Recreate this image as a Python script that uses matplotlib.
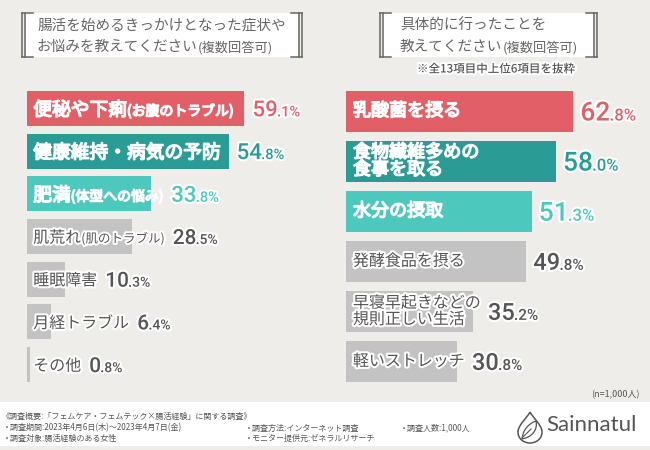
import matplotlib
matplotlib.use("Agg")
import matplotlib.pyplot as plt
import matplotlib.patheffects as pe
from matplotlib.patches import Rectangle, PathPatch
from matplotlib.path import Path

plt.rcParams['font.family'] = ['Noto Sans CJK JP', 'DejaVu Sans']

# ── data ─────────────────────────────────────────────
left_main = ["便秘や下痢", "健康維持・病気の予防", "肥満", "肌荒れ", "睡眠障害", "月経トラブル", "その他"]
left_sub = ["(お腹のトラブル)", "", "(体型への悩み)", "(肌のトラブル)", "", "", ""]
left_values = [59.1, 54.8, 33.8, 28.5, 10.3, 6.4, 0.8]

right_labels = ["乳酸菌を摂る", "食物繊維多めの\n食事を取る", "水分の摂取", "発酵食品を摂る",
                "早寝早起きなどの\n規則正しい生活", "軽いストレッチ"]
right_values = [62.8, 58.0, 51.3, 49.8, 35.2, 30.8]

left_title = ["腸活を始めるきっかけとなった症状や", "お悩みを教えてください"]
right_title = ["具体的に行ったことを", "教えてください"]
title_sub = "(複数回答可)"
right_note = "※全13項目中上位6項目を抜粋"
n_note = "(n=1,000人)"
footer_lines = [
    [(2, "《調査概要:「フェムケア・フェムテック×腸活経験」に関する調査》")],
    [(3, "・調査期間:2023年4月6日(木)～2023年4月7日(金)"), (245, "・調査方法:インターネット調査"), (400, "・調査人数:1,000人")],
    [(3, "・調査対象:腸活経験のある女性"), (245, "・モニター提供元:ゼネラルリサーチ")],
]

# ── style ────────────────────────────────────────────
BG = "#efedea"
RED, TEAL, LTEAL, GRAY = "#e35f68", "#2a9c95", "#4cc8bd", "#c3c3c3"
TXT = "#555555"
left_colors = [RED, TEAL, LTEAL, GRAY, GRAY, GRAY, GRAY]
right_colors = [RED, TEAL, LTEAL, GRAY, GRAY, GRAY]
NUM_FONT = ['Roboto', 'DejaVu Sans']

fig = plt.figure(figsize=(6.5, 4.5), dpi=100, facecolor=BG)
W, H = 650, 450

# decoration layer in pixel units
deco = fig.add_axes([0, 0, 1, 1], zorder=0)
deco.set_xlim(0, W)
deco.set_ylim(H, 0)
deco.axis("off")


def bracket_box(x0, x1, y0, y1):
    deco.add_patch(Rectangle((x0 + 3, y0), x1 - x0 - 6, y1 - y0, facecolor="white", edgecolor="none"))
    for x in (x0, x0 + 3, x1 - 3, x1):
        deco.plot([x, x], [y0, y1], color="#666666", lw=1.1)
    for y in (y0, y1):
        deco.plot([x0, x0 + 11], [y, y], color="#666666", lw=1.1)
        deco.plot([x1 - 11, x1], [y, y], color="#666666", lw=1.1)


bracket_box(22, 302, 13, 57)
bracket_box(380, 597, 13, 57)

renderer = fig.canvas.get_renderer()


def text_width(t):
    return t.get_window_extent(renderer).width


def title(x, lines):
    deco.text(x, 26, lines[0], fontsize=10.5, color="#666666", va="center", ha="left")
    t = deco.text(x, 47, lines[1], fontsize=10.5, color="#666666", va="center", ha="left")
    w = text_width(t)
    deco.annotate(title_sub, xy=(x, 47), xytext=(w * 72 / fig.dpi, -0.5), textcoords="offset points",
                  fontsize=9.5, color="#666666", va="center", ha="left")


title(37, left_title)
title(400, right_title)

halo = [pe.Stroke(linewidth=3, foreground="white"), pe.Normal()]
deco.text(417, 69, right_note, fontsize=8.3, color=TXT, va="center", ha="left",
          fontweight="medium", path_effects=halo)
deco.text(640, 395, n_note, fontsize=6.5, color=TXT, va="center", ha="right")

# footer
deco.add_patch(Rectangle((0, 402), W, 44, facecolor="white", edgecolor="none"))
for y, row in zip([416, 428, 438], footer_lines):
    for x, s in row:
        deco.text(x, y, s, fontsize=5.8, color=TXT, va="center", ha="left")

# logo
drop = Path([(530, 412), (533, 418), (542, 425), (542, 432),
             (542, 439), (536, 443), (530, 443),
             (524, 443), (518, 439), (518, 432),
             (518, 425), (527, 418), (530, 412)],
            [Path.MOVETO] + [Path.CURVE4] * 12)
deco.add_patch(PathPatch(drop, facecolor="none", edgecolor="#555555", lw=1.1))
leaf = Path([(522, 439), (523, 430), (528, 424), (536, 421),
             (538, 430), (532, 437), (522, 439)],
            [Path.MOVETO] + [Path.CURVE4] * 6)
deco.add_patch(PathPatch(leaf, facecolor="none", edgecolor="#555555", lw=0.9))
deco.plot([523, 531], [437, 429], color="#555555", lw=0.8)
deco.text(546, 425, "Sainnatul", fontsize=16, color="#555555", family=["Lato", "DejaVu Sans"],
          va="center", ha="left")


def value_label(ax, i, x_px, v, color, big, small):
    x_data = ax.transData.inverted().transform((x_px, 0))[0]
    ip, fp = f"{v:.1f}".split(".")
    t = ax.annotate(ip, xy=(x_data, i), xytext=(0, -0.36 * big), textcoords="offset points",
                    fontsize=big, color=color, family=NUM_FONT, fontweight="medium",
                    va="baseline", ha="left", path_effects=halo)
    w = text_width(t)
    ax.annotate("." + fp + "%", xy=(x_data, i), xytext=(w * 72 / fig.dpi - 0.5, -0.36 * big),
                textcoords="offset points", fontsize=small, color=color, family=NUM_FONT,
                fontweight="medium", va="baseline", ha="left", path_effects=halo)


white_eff = [pe.Stroke(linewidth=1.0, foreground="white"), pe.Normal()]

# ── left panel ───────────────────────────────────────
axL = fig.add_axes([27 / W, 1 - 386 / H, 280 / W, 299 / H], zorder=1)
axL.set_xlim(0, 280 / 3.68)
axL.set_ylim(len(left_values) - 0.5, -0.5)
axL.axis("off")
axL.barh(range(len(left_values)), left_values, height=0.82, color=left_colors)

for i, (m, s, v, c) in enumerate(zip(left_main, left_sub, left_values, left_colors)):
    colored = c != GRAY
    fs = 13.5 if colored else 11.5
    sfs = 10 if colored else 9
    tc = "white" if colored else TXT
    eff = white_eff if colored else halo
    off = 4.5
    right = 0
    for part, size in ((m, fs), (s, sfs)):
        if not part:
            continue
        t = axL.annotate(part, xy=(0, i), xytext=(off, -0.38 * fs), textcoords="offset points",
                         fontsize=size, color=tc, fontweight="normal", va="baseline", ha="left",
                         path_effects=eff)
        bb = t.get_window_extent(renderer)
        off += bb.width * 72 / fig.dpi
        right = bb.x1
    bar_end = axL.transData.transform((v, i))[0]
    value_label(axL, i, max(bar_end, right) + 8, v, c if colored else TXT,
                16 if colored else 15, 10.5 if colored else 10)

# ── right panel ──────────────────────────────────────
axR = fig.add_axes([346 / W, 1 - 386.5 / H, 280 / W, 300.5 / H], zorder=1)
axR.set_xlim(0, 280 / 3.62)
axR.set_ylim(len(right_values) - 0.5, -0.5)
axR.axis("off")
axR.barh(range(len(right_values)), right_values, height=0.82, color=right_colors)

for i, (lab, v, c) in enumerate(zip(right_labels, right_values, right_colors)):
    colored = c != GRAY
    tc = "white" if colored else TXT
    eff = white_eff if colored else halo
    t = axR.annotate(lab, xy=(0, i), xytext=(5, 0), textcoords="offset points",
                     fontsize=13 if colored else 11.5, color=tc,
                     fontweight="normal", va="center", ha="left",
                     linespacing=0.95, path_effects=eff)
    right = t.get_window_extent(renderer).x1
    bar_end = axR.transData.transform((v, i))[0]
    value_label(axR, i, max(bar_end, right) + 7, v, c if colored else TXT,
                19 if colored else 17, 12 if colored else 11)

fig.savefig("out.png", dpi=100, facecolor=BG)
